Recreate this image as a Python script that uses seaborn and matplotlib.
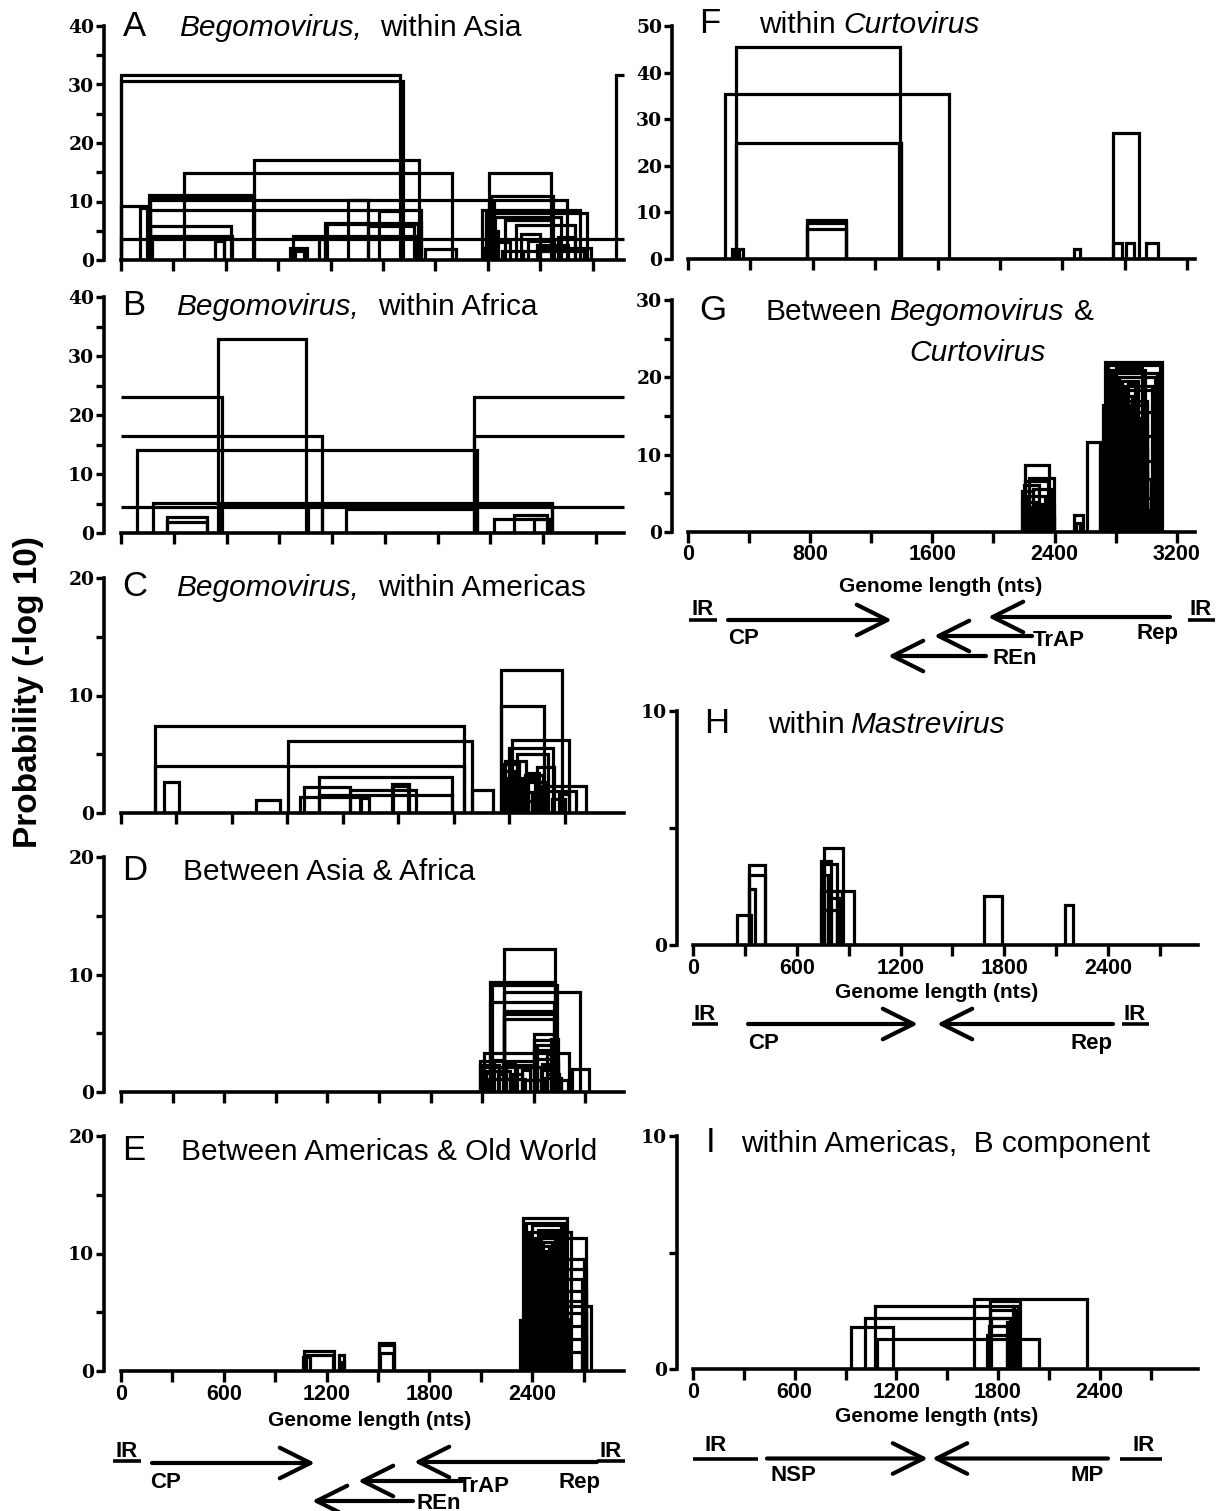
import numpy as np
import pandas as pd
import matplotlib.pyplot as plt
import seaborn as sns

# recombination events: start / end of the transferred region (nts) and -log10 P
# start < 0 or end past the axis = region wraps round the circular genome
A_start = [0, 0, 2835, 763, 358, 2106, 161, 165, 165, 0, 110, 165, 1297, 1170, 1180, 165, 165, 175, 0, 984,
           540, 998, 970, 1132, 1743, 1476, 1413, 2067, 2090, 2120, 2135, 2140, 2200, 2260, 2090, 2130, 2290,
           2330, 2300, 2400, 2380, 2083, 2500, 2180]
A_end = [1600, 1615, 3100, 1709, 1896, 2460, 763, 755, 2106, 150, 160, 1716, 1413, 1716, 1700, 630, 634, 590, 3100, 1690,
         587, 1046, 1067, 1170, 1919, 1611, 1676, 2627, 2669, 2474, 2553, 2520, 2470, 2600, 2160, 2230, 2400,
         2480, 2650, 2690, 2560, 2120, 2600, 2300]
A_prob = [31.7, 30.6, 31.7, 17.1, 14.8, 14.8, 11.1, 10.7, 10.3, 9.3, 8.9, 8.6, 10.3, 6.4, 6.1, 5.8, 4.1, 3.7, 3.6, 4.1,
          3.2, 1.5, 2.1, 3.6, 1.8, 8.3, 5.8, 8.6, 8.1, 10.9, 10.3, 7.4, 6.9, 6.0, 5.0, 3.0, 4.5,
          3.2, 1.6, 2.0, 2.6, 2.0, 4.0, 1.5]

B_start = [554, -100, 2006, -100, 2006, 91, 180, 560, -100, 1280, 263, 263, 2120, 2233, 2347, 1062]
B_end = [1051, 574, 3100, 1145, 3100, 2026, 2451, 2451, 3100, 2026, 491, 491, 2440, 2420, 2440, 1145]
B_prob = [32.8, 23.1, 23.1, 16.4, 16.4, 14.1, 5.1, 4.9, 4.4, 4.0, 2.7, 1.8, 2.3, 3.0, 2.3, 4.9]

C_start = [182, 182, 905, 1069, 1069, 988, 1237, 968, 1290, 1465, 1470, 230, 731, 1900, 2056, 2056, 2116, 2100,
           2140, 2075, 2186, 2270, 2300, 2370, 2065, 2160, 2220, 2080, 2250, 2330,
           2070, 2090, 2105, 2120, 2150, 2170, 2200]
C_end = [1856, 1856, 1900, 1789, 1789, 1237, 1595, 1300, 1342, 1560, 1550, 313, 862, 2010, 2385, 2285, 2422, 2335,
         2310, 2190, 2280, 2517, 2460, 2420, 2130, 2260, 2300, 2200, 2340, 2400,
         2150, 2240, 2170, 2280, 2230, 2300, 2260]
C_prob = [7.4, 4.0, 6.1, 3.1, 1.5, 2.2, 2.0, 1.4, 1.3, 2.5, 2.3, 2.6, 1.1, 2.0, 12.2, 9.1, 6.25, 5.5,
          5.0, 4.4, 3.2, 2.3, 1.9, 1.6, 3.6, 2.8, 1.5, 2.1, 3.9, 1.2,
          4.2, 3.0, 2.4, 1.8, 1.0, 2.6, 3.4]

D_start = [2225, 2148, 2160, 2225, 2148, 2225, 2230, 2225, 2403, 2403, 2420, 2110, 2087, 2095, 2400, 2620, 2100,
           2190, 2280, 2420, 2440, 2460, 2560, 2300, 2480, 2340,
           2090, 2120, 2130, 2170, 2240, 2330, 2450, 2480, 2500]
D_end = [2523, 2526, 2535, 2668, 2520, 2526, 2520, 2526, 2520, 2515, 2526, 2604, 2415, 2500, 2530, 2720, 2150,
         2240, 2330, 2540, 2510, 2560, 2600, 2400, 2530, 2450,
         2200, 2260, 2350, 2220, 2290, 2380, 2540, 2545, 2540]
D_prob = [12.2, 9.4, 9.1, 8.5, 7.7, 6.9, 6.6, 6.2, 4.9, 4.4, 4.0, 3.3, 2.6, 2.1, 3.6, 2.0, 1.6,
          1.5, 1.5, 2.8, 1.9, 1.2, 1.0, 2.3, 3.2, 1.0,
          2.3, 1.8, 1.1, 2.7, 2.4, 1.9, 2.4, 1.5, 4.5]

E_start = [1070, 1081, 1060, 1272, 1285, 1506, 1506, 1510,
           2327, 2345, 2362, 2380, 2397, 2414, 2431, 2448, 2465, 2355, 2372, 2389, 2406, 2423, 2440, 2457,
           2474, 2491, 2508, 2350, 2525, 2400, 2542, 2367, 2559, 2384, 2576, 2410, 2590, 2436]
E_end = [1240, 1236, 1100, 1304, 1300, 1592, 1592, 1590,
         2600, 2600, 2582, 2625, 2565, 2715, 2548, 2531, 2514, 2497, 2480, 2590, 2700, 2540, 2715, 2575,
         2690, 2556, 2715, 2523, 2705, 2742, 2715, 2607, 2700, 2590, 2715, 2620, 2690, 2610]
E_prob = [1.7, 1.4, 1.2, 1.4, 0.8, 2.4, 2.2, 1.5,
          4.3, 13.0, 12.6, 11.8, 12.4, 11.3, 12.0, 11.6, 11.0, 10.6, 10.2, 9.8, 9.5, 9.0, 8.7, 8.2,
          7.8, 7.3, 6.8, 6.4, 6.0, 5.5, 4.9, 4.4, 3.8, 3.3, 2.7, 2.2, 1.6, 1.1]

F_start = [307, 234, 307, 1352, 761, 761, 761, 285, 300, 2476, 2727, 2727, 2805, 2937]
F_end = [1356, 1673, 1368, 1368, 1010, 1010, 1010, 354, 330, 2510, 2890, 2780, 2860, 3010]
F_prob = [45.6, 35.5, 24.8, 24.8, 8.4, 7.8, 6.4, 2.1, 1.5, 2.1, 27.0, 3.5, 3.5, 3.5]

G_start = [2209, 2230, 2210, 2184, 2200, 2220, 2190, 2240, 2195, 2250, 2205, 2270, 2260, 2300, 2529, 2540, 2614,
           2695, 2720, 2729, 2748, 2767, 2786, 2805, 2824, 2843, 2862, 2881, 2738, 2757, 2776, 2795, 2814,
           2833, 2852, 2871, 2743, 2762, 2781, 2800, 2819, 2838, 2857, 2876, 2750, 2790, 2830, 2870, 2760,
           2810, 2850, 2895]
G_end = [2364, 2396, 2360, 2260, 2300, 2340, 2280, 2320, 2330, 2396, 2290, 2350, 2380, 2396, 2584, 2570, 2696,
         3000, 3008, 3103, 3088, 2990, 3070, 2970, 3055, 2950, 3040, 2930, 3096, 2910, 3008, 2890, 3080,
         2960, 3008, 2940, 3062, 2920, 3008, 2980, 3045, 2900, 3008, 3030, 2960, 3008, 3100, 3008, 3020,
         2940, 3008, 3080]
G_prob = [8.7, 7.0, 6.6, 5.3, 6.1, 4.6, 3.9, 3.2, 2.6, 1.9, 1.3, 0.8, 5.6, 3.6, 2.15, 1.2, 11.6,
          10.5, 16.4, 22.0, 21.6, 21.0, 20.6, 21.2, 20.0, 19.5, 18.9, 19.2, 18.3, 17.6, 16.9, 16.2, 15.5,
          14.8, 14.0, 13.2, 12.4, 11.6, 10.8, 10.0, 9.2, 8.4, 7.6, 6.8, 6.0, 5.2, 4.4, 3.6, 2.8,
          2.0, 1.2, 0.6]

H_start = [254, 322, 322, 322, 738, 760, 760, 738, 832, 745, 760, 1682, 2150, 745, 790]
H_end = [335, 361, 418, 418, 799, 869, 832, 860, 930, 800, 830, 1785, 2196, 780, 850]
H_prob = [1.3, 2.4, 3.4, 3.0, 3.6, 4.15, 3.45, 2.3, 2.3, 1.5, 1.5, 2.1, 1.7, 3.0, 2.0]

I_start = [935, 1015, 1075, 1087, 1658, 1750, 1750, 1760, 1745, 1736, 1850, 1870, 1890]
I_end = [1181, 1871, 1893, 2039, 2326, 1927, 1900, 1905, 1890, 1850, 1925, 1915, 1920]
I_prob = [1.8, 2.2, 2.7, 1.3, 3.0, 2.9, 2.55, 2.2, 1.85, 1.45, 2.0, 1.0, 2.7]

sns.set_style("ticks")
plt.rcParams['font.family'] = ['Liberation Sans', 'DejaVu Sans']
plt.rcParams['text.color'] = 'black'
plt.rcParams['xtick.color'] = 'black'
plt.rcParams['ytick.color'] = 'black'
plt.rcParams['axes.edgecolor'] = 'black'

W, H = 1221, 1511
fig = plt.figure(figsize=(W / 100, H / 100), dpi=100)


def make_panel(x_spine, x0, x1, y_top, y_bot, xmax, ymax):
    ppu = (x1 - x0) / xmax
    xmin = -(x0 - x_spine) / ppu
    ax = fig.add_axes([x_spine / W, 1 - y_bot / H, (x1 - x_spine) / W, (y_bot - y_top) / H])
    ax.set_xlim(xmin, xmax)
    ax.set_ylim(0, ymax)
    ax.patch.set_alpha(0)
    return ax


def draw_events(ax, starts, ends, probs, xmax):
    rows = []
    for i in range(len(starts)):
        s, e, p = starts[i], ends[i], probs[i]
        xs, ys = [], []
        if s >= 0:
            xs.append(s); ys.append(0)
        xs.append(max(s, 0)); ys.append(p)
        xs.append(min(e, xmax)); ys.append(p)
        if e <= xmax:
            xs.append(e); ys.append(0)
        for k in range(len(xs)):
            rows.append({'event': i, 'step': k, 'x': xs[k], 'y': ys[k]})
    df = pd.DataFrame(rows)
    sns.lineplot(data=df, x='x', y='y', units='event', estimator=None, sort=False,
                 color='black', linewidth=2.3, ax=ax, legend=False)
    for ln in ax.lines:
        ln.set_clip_on(False)
        ln.set_solid_joinstyle('miter')
        ln.set_solid_capstyle('butt')


def style_axis(ax, xmax, ymax, xticks, xlabels, yticks, ylabels):
    sns.despine(ax=ax)
    ax.spines['bottom'].set_bounds(0, xmax)
    ax.spines['left'].set_bounds(0, ymax)
    for sp in ['bottom', 'left']:
        ax.spines[sp].set_linewidth(2.6)
    ax.set_xlabel('')
    ax.set_ylabel('')
    ax.set_xticks(xticks)
    ax.set_xticklabels(xlabels, fontfamily='Liberation Sans', fontweight='bold', fontsize=15.5)
    ax.set_yticks(yticks)
    ax.set_yticklabels(ylabels, fontfamily='DejaVu Serif', fontweight='bold', fontsize=13.5)
    ax.tick_params(axis='x', length=8, width=2.4, direction='out', pad=1)
    ax.tick_params(axis='y', length=6, width=2.4, direction='out', pad=1)


def lab(ticks, every):
    return [str(t) if t % every == 0 else '' for t in ticks]


left_ticks = list(range(0, 2701, 300))
C_ticks = list(range(0, 2401, 300))
FG_ticks = list(range(0, 3201, 400))
y40 = list(range(0, 41, 5))
y20 = list(range(0, 21, 5))
y50 = list(range(0, 51, 10))
y30 = list(range(0, 31, 5))
y10 = [0, 5, 10]
blank = lambda t: [''] * len(t)

panels = [
    # spine, x0, x1, top, bottom, xmax, ymax, data, xticks, xlabels, yticks, ylabels
    (104, 121, 624, 26, 260, 2880, 40, (A_start, A_end, A_prob), left_ticks, blank(left_ticks), y40, lab(y40, 10)),
    (104, 121, 624, 297, 533, 2860, 40, (B_start, B_end, B_prob), left_ticks, blank(left_ticks), y40, lab(y40, 10)),
    (104, 121, 624, 578, 813, 2720, 20, (C_start, C_end, C_prob), C_ticks, blank(C_ticks), y20, lab(y20, 10)),
    (104, 121, 624, 857, 1092, 2925, 20, (D_start, D_end, D_prob), left_ticks, blank(left_ticks), y20, lab(y20, 10)),
    (104, 121, 624, 1136, 1371, 2935, 20, (E_start, E_end, E_prob), left_ticks, lab(left_ticks, 600), y20, lab(y20, 10)),
    (672, 688, 1195, 26, 259, 3250, 50, (F_start, F_end, F_prob), FG_ticks, blank(FG_ticks), y50, lab(y50, 10)),
    (672, 688, 1195, 300, 532, 3320, 30, (G_start, G_end, G_prob), FG_ticks, lab(FG_ticks, 800), y30, lab(y30, 10)),
    (677, 693, 1198, 711, 945, 2920, 10, (H_start, H_end, H_prob), left_ticks, lab(left_ticks, 600), y10, lab(y10, 10)),
    (677, 693, 1198, 1136, 1369, 2980, 10, (I_start, I_end, I_prob), left_ticks, lab(left_ticks, 600), y10, lab(y10, 10)),
]

for (xs, x0, x1, yt, yb, xmax, ymax, data, xt, xl, yt_, yl) in panels:
    assert len(data[0]) == len(data[1]) == len(data[2])
    ax = make_panel(xs, x0, x1, yt, yb, xmax, ymax)
    draw_events(ax, data[0], data[1], data[2], xmax)
    style_axis(ax, xmax, ymax, xt, xl, yt_, yl)

# overlay in pixel coordinates for titles and gene maps
ov = fig.add_axes([0, 0, 1, 1])
ov.set_xlim(0, W)
ov.set_ylim(H, 0)
ov.axis('off')

titles = [
    (123, 36, 'A', 'normal', 25), (179, 36, 'Begomovirus,', 'italic', 21.5), (380, 36, 'within Asia', 'normal', 21.5),
    (122, 315, 'B', 'normal', 25), (176, 315, 'Begomovirus,', 'italic', 21.5), (378, 315, 'within Africa', 'normal', 21.5),
    (122, 596, 'C', 'normal', 25), (176, 596, 'Begomovirus,', 'italic', 21.5), (378, 596, 'within Americas', 'normal', 21.5),
    (122, 880, 'D', 'normal', 25), (183, 880, 'Between Asia & Africa', 'normal', 21.5),
    (122, 1160, 'E', 'normal', 25), (181, 1160, 'Between Americas & Old World', 'normal', 21.5),
    (699, 33, 'F', 'normal', 25), (759, 33, 'within', 'normal', 21.5), (843, 33, 'Curtovirus', 'italic', 21.5),
    (699, 320, 'G', 'normal', 25), (766, 320, 'Between', 'normal', 21.5), (889, 320, 'Begomovirus', 'italic', 21.5),
    (1074, 320, '&', 'normal', 21.5), (909, 361, 'Curtovirus', 'italic', 21.5),
    (704, 733, 'H', 'normal', 25), (768, 733, 'within', 'normal', 21.5), (850, 733, 'Mastrevirus', 'italic', 21.5),
    (706, 1152, 'I', 'normal', 25), (741, 1152, 'within Americas,  B component', 'normal', 21.5),
]
for x, y, t, st, fs in titles:
    ov.text(x, y, t, fontstyle=st, fontsize=fs, ha='left', va='baseline')

for x, y in [(370, 1421), (941, 586), (937, 992), (937, 1416)]:
    ov.text(x, y, 'Genome length (nts)', fontsize=15, fontweight='bold', ha='center', va='center')

ov.text(29, 692, 'Probability (-log 10)', rotation=90, fontsize=24, fontweight='bold', ha='center', va='center')

gfont = dict(fontsize=16, fontweight='bold')


def arrow(tail, tip, y):
    ov.annotate('', xy=(tip, y), xytext=(tail, y),
                arrowprops=dict(arrowstyle='->,head_length=1.1,head_width=0.55', lw=3, color='black',
                                shrinkA=0, shrinkB=0, mutation_scale=20))


def ir(xc, base, x_a, x_b, yline):
    ov.text(xc, base, 'IR', ha='center', va='baseline', **gfont)
    ov.plot([x_a, x_b], [yline, yline], color='black', lw=2.6, solid_capstyle='butt')


# map under E
ir(127, 1457, 113, 141, 1461)
ir(611, 1457, 597, 625, 1461)
arrow(152, 315, 1463); ov.text(150, 1488, 'CP', ha='left', va='baseline', **gfont)
arrow(597, 414, 1462); ov.text(601, 1488, 'Rep', ha='right', va='baseline', **gfont)
arrow(462, 358, 1481); ov.text(458, 1492, 'TrAP', ha='left', va='baseline', **gfont)
arrow(413, 312, 1501); ov.text(417, 1509, 'REn', ha='left', va='baseline', **gfont)

# map under G
ir(703, 615, 689, 717, 620)
ir(1201, 615, 1188, 1215, 620)
arrow(728, 892, 620); ov.text(728, 644, 'CP', ha='left', va='baseline', **gfont)
arrow(1170, 988, 617); ov.text(1178, 639, 'Rep', ha='right', va='baseline', **gfont)
arrow(1032, 934, 636); ov.text(1033, 646, 'TrAP', ha='left', va='baseline', **gfont)
arrow(986, 888, 656); ov.text(992, 664, 'REn', ha='left', va='baseline', **gfont)

# map under H
ir(705, 1020, 692, 718, 1024)
ir(1135, 1020, 1122, 1149, 1024)
arrow(748, 918, 1024); ov.text(748, 1049, 'CP', ha='left', va='baseline', **gfont)
arrow(1113, 937, 1024); ov.text(1113, 1049, 'Rep', ha='right', va='baseline', **gfont)

# map under I
ov.text(716, 1451, 'IR', ha='center', va='baseline', **gfont)
ov.plot([693, 758], [1458.5, 1458.5], color='black', lw=2.6, solid_capstyle='butt')
ov.text(1144, 1451, 'IR', ha='center', va='baseline', **gfont)
ov.plot([1120, 1162], [1458.5, 1458.5], color='black', lw=2.6, solid_capstyle='butt')
arrow(767, 928, 1458.5); ov.text(771, 1481, 'NSP', ha='left', va='baseline', **gfont)
arrow(1108, 932, 1458.5); ov.text(1104, 1481, 'MP', ha='right', va='baseline', **gfont)

fig.savefig('out.png', dpi=100, facecolor='white')
